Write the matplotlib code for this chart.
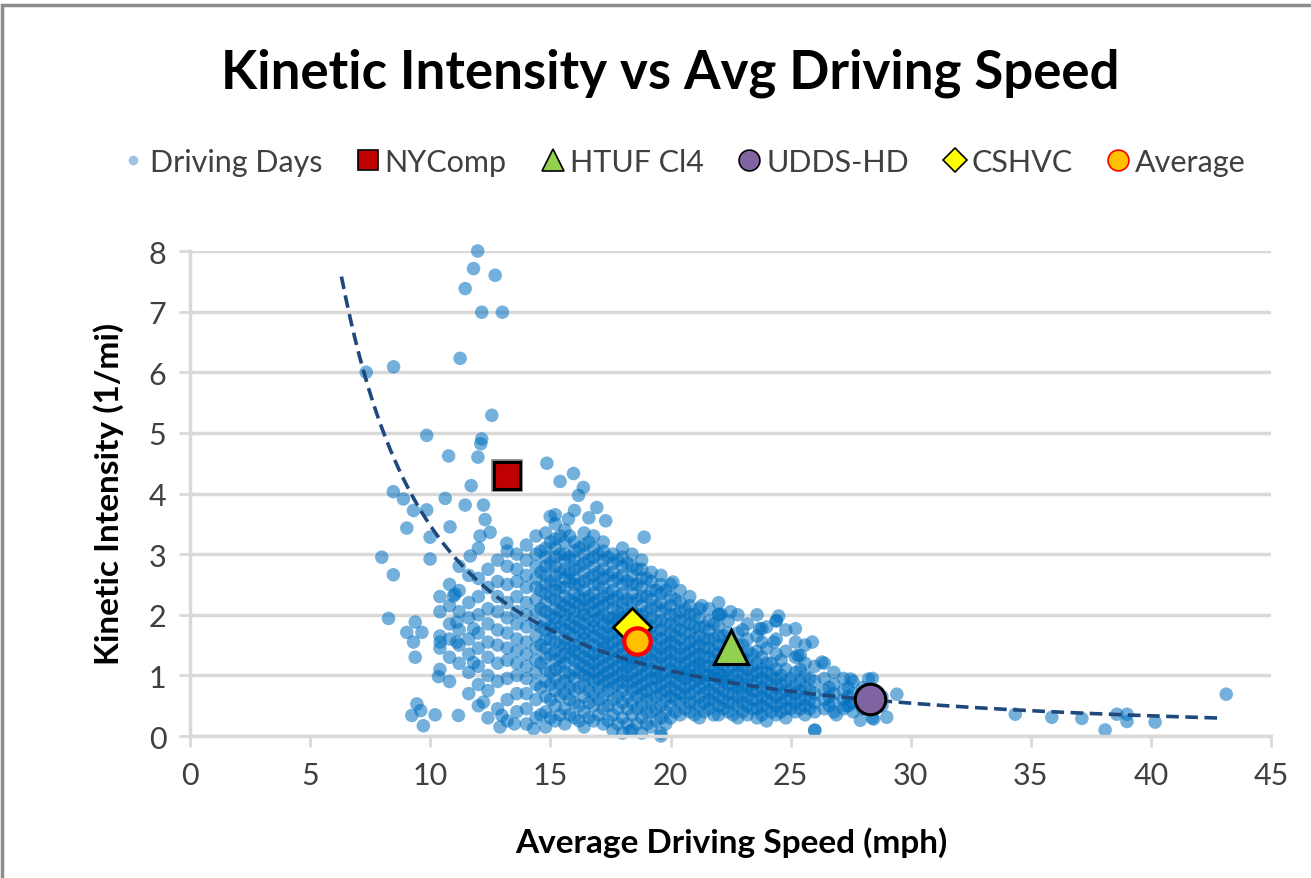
import numpy as np
import matplotlib.pyplot as plt
import matplotlib.patheffects as pe
from matplotlib.lines import Line2D
from matplotlib.patches import Rectangle

plt.rcParams['font.family'] = ['Lato', 'DejaVu Sans']

# sparse driving days (outliers)
sparse_speed = [11.97, 11.8, 12.7, 11.45, 12.14, 13.0, 11.24, 8.47, 7.33, 12.56,
                9.85, 12.14, 12.1, 10.76, 11.98, 14.85, 15.96, 15.4, 16.37, 11.7,
                8.46, 8.88, 10.62, 16.17, 11.45, 12.21, 9.85, 9.3, 16.93, 12.28,
                9.02, 10.82, 15.75, 14.99, 9.99, 12.07, 12.49, 13.18, 7.98, 9.99,
                11.66, 8.46, 11.03, 8.26, 9.37, 9.02, 9.65, 9.3, 9.37, 10.34,
                11.8, 9.44, 9.23, 9.71, 11.17, 12.21, 12.98, 10.41, 11.1, 10.96,
                11.1, 11.8, 15.2, 16.0, 16.6, 17.3, 18.9, 20.1, 21.3, 22.1,
                22.5, 24.5, 23.7, 22.0, 24.4, 25.2, 23.8, 25.9, 24.3, 25.4,
                26.3, 28.4, 29.0, 27.9, 26.0, 43.13, 34.35, 35.87, 37.12, 38.09,
                39.0, 38.58, 39.0, 40.17, 29.42, 28.45, 28.24, 25.3, 27.5, 19.6,
                18.3, 14.3, 13.5, 12.9, 10.2, 9.6, 26.9, 27.3]
sparse_ki = [8.0, 7.71, 7.6, 7.38, 6.99, 6.99, 6.23, 6.09, 6.0, 5.29,
             4.96, 4.9, 4.82, 4.62, 4.6, 4.5, 4.33, 4.2, 4.1, 4.13,
             4.03, 3.91, 3.92, 3.97, 3.81, 3.81, 3.73, 3.72, 3.77, 3.57,
             3.43, 3.45, 3.58, 3.62, 3.28, 3.3, 3.36, 3.18, 2.95, 2.92,
             2.97, 2.66, 2.34, 1.94, 1.88, 1.71, 1.71, 1.55, 1.30, 0.98,
             1.21, 0.53, 0.34, 0.17, 0.34, 0.56, 0.34, 1.55, 1.55, 2.31,
             1.88, 1.77, 3.65, 3.72, 3.6, 3.55, 3.28, 2.54, 2.15, 2.01,
             2.05, 1.98, 1.77, 2.01, 1.9, 1.77, 1.77, 1.55, 1.55, 1.33,
             1.22, 0.69, 0.31, 0.26, 0.09, 0.69, 0.36, 0.31, 0.29, 0.10,
             0.24, 0.36, 0.36, 0.23, 0.69, 0.28, 0.94, 1.33, 0.94, 0.05,
             0.08, 0.12, 0.2, 0.15, 0.35, 0.42, 0.35, 0.5]

# dense cloud of driving days, by speed column (mph) -> kinetic intensity values
core_days = {
    10.4: [1.1, 1.45, 1.65, 2.05, 2.3],
    10.8: [0.9, 1.3, 1.6, 1.85, 2.15, 2.5],
    11.2: [1.2, 1.5, 1.75, 2.05, 2.4, 2.8],
    11.6: [0.7, 1.05, 1.35, 1.6, 1.95, 2.2, 2.65],
    12.0: [0.5, 0.85, 1.15, 1.45, 1.7, 2.0, 2.3, 2.6, 3.1],
    12.4: [0.3, 0.75, 1.0, 1.3, 1.55, 1.85, 2.1, 2.45, 2.75],
    12.8: [0.45, 0.9, 1.2, 1.5, 1.75, 2.05, 2.3, 2.55, 2.9],
    13.2: [0.25, 0.6, 0.95, 1.25, 1.45, 1.7, 1.95, 2.2, 2.5, 2.8, 3.05],
    13.6: [0.4, 0.7, 1.0, 1.2, 1.4, 1.6, 1.85, 2.05, 2.3, 2.55, 2.75, 3.0],
    14.0: [0.2, 0.45, 0.7, 0.95, 1.15, 1.35, 1.55, 1.8, 2.0, 2.2, 2.45, 2.65, 2.9, 3.15],
    14.4: [0.3, 0.6, 0.85, 1.05, 1.25, 1.45, 1.65, 1.85, 2.05, 2.25, 2.45, 2.6, 2.8, 3.0, 3.3],
    14.8: [0.15, 0.4, 0.65, 0.9, 1.1, 1.3, 1.45, 1.6, 1.75, 1.9, 2.05, 2.2, 2.35, 2.5, 2.65,
           2.8, 2.95, 3.1, 3.35],
    15.2: [0.25, 0.5, 0.75, 0.95, 1.1, 1.25, 1.4, 1.55, 1.7, 1.85, 1.95, 2.1, 2.25, 2.4, 2.5,
           2.65, 2.8, 2.95, 3.1, 3.25, 3.5],
    15.6: [0.2, 0.45, 0.7, 0.9, 1.05, 1.2, 1.35, 1.5, 1.6, 1.75, 1.9, 2.0, 2.15, 2.3, 2.45,
           2.6, 2.75, 2.9, 3.0, 3.2, 3.4],
    16.0: [0.3, 0.55, 0.75, 0.95, 1.1, 1.25, 1.4, 1.5, 1.65, 1.8, 1.95, 2.05, 2.2, 2.35, 2.5,
           2.6, 2.75, 2.9, 3.05, 3.2],
    16.4: [0.15, 0.4, 0.65, 0.85, 1.0, 1.15, 1.3, 1.45, 1.6, 1.7, 1.85, 2.0, 2.1, 2.25, 2.4,
           2.55, 2.7, 2.85, 3.0, 3.15, 3.35],
    16.8: [0.25, 0.5, 0.7, 0.9, 1.05, 1.2, 1.35, 1.5, 1.65, 1.8, 1.9, 2.05, 2.2, 2.35, 2.5,
           2.65, 2.8, 2.95, 3.1, 3.3],
    17.2: [0.2, 0.45, 0.65, 0.85, 1.0, 1.15, 1.3, 1.45, 1.55, 1.7, 1.85, 2.0, 2.15, 2.3, 2.45,
           2.6, 2.75, 2.9, 3.05, 3.2],
    17.6: [0.1, 0.35, 0.6, 0.8, 0.95, 1.1, 1.25, 1.4, 1.55, 1.7, 1.85, 1.95, 2.1, 2.25, 2.4,
           2.55, 2.7, 2.85, 3.0],
    18.0: [0.05, 0.3, 0.55, 0.75, 0.9, 1.05, 1.2, 1.35, 1.5, 1.65, 1.8, 1.95, 2.1, 2.2, 2.35,
           2.5, 2.65, 2.8, 2.95, 3.1],
    18.4: [0.1, 0.35, 0.55, 0.75, 0.9, 1.05, 1.2, 1.3, 1.45, 1.6, 1.75, 1.9, 2.05, 2.2, 2.35,
           2.5, 2.65, 2.8, 3.0],
    18.8: [0.05, 0.3, 0.5, 0.7, 0.85, 1.0, 1.15, 1.3, 1.45, 1.6, 1.75, 1.9, 2.0, 2.15, 2.3,
           2.45, 2.6, 2.75, 2.9],
    19.2: [0.15, 0.4, 0.6, 0.8, 0.95, 1.1, 1.25, 1.4, 1.55, 1.65, 1.8, 1.95, 2.1, 2.25, 2.4,
           2.55, 2.7],
    19.6: [0.0, 0.3, 0.5, 0.7, 0.85, 1.0, 1.15, 1.3, 1.45, 1.6, 1.75, 1.9, 2.05, 2.2, 2.35,
           2.5, 2.65],
    20.0: [0.3, 0.5, 0.65, 0.8, 0.95, 1.1, 1.25, 1.4, 1.55, 1.7, 1.85, 2.0, 2.15, 2.3, 2.5],
    20.4: [0.35, 0.55, 0.7, 0.85, 1.0, 1.15, 1.3, 1.45, 1.6, 1.75, 1.9, 2.05, 2.2, 2.4],
    20.8: [0.4, 0.55, 0.7, 0.85, 1.0, 1.1, 1.25, 1.4, 1.55, 1.7, 1.85, 2.0, 2.15, 2.3],
    21.2: [0.3, 0.5, 0.65, 0.8, 0.95, 1.1, 1.2, 1.35, 1.5, 1.65, 1.8, 1.95, 2.1],
    21.6: [0.45, 0.6, 0.75, 0.9, 1.0, 1.15, 1.3, 1.45, 1.6, 1.75, 1.9, 2.1],
    22.0: [0.35, 0.5, 0.65, 0.8, 0.95, 1.05, 1.2, 1.35, 1.5, 1.65, 1.8, 2.0, 2.2],
    22.4: [0.4, 0.55, 0.7, 0.85, 0.95, 1.1, 1.25, 1.4, 1.55, 1.7, 1.9],
    22.8: [0.3, 0.5, 0.65, 0.8, 0.9, 1.05, 1.2, 1.35, 1.5, 1.7, 2.0],
    23.2: [0.35, 0.5, 0.65, 0.8, 0.95, 1.1, 1.25, 1.4, 1.6, 1.85],
    23.6: [0.3, 0.45, 0.6, 0.75, 0.9, 1.05, 1.2, 1.4, 1.65, 2.0],
    24.0: [0.25, 0.45, 0.6, 0.75, 0.9, 1.05, 1.2, 1.45, 1.8],
    24.4: [0.35, 0.5, 0.65, 0.8, 0.95, 1.1, 1.35, 1.6, 1.9],
    24.8: [0.3, 0.45, 0.6, 0.75, 0.9, 1.1, 1.4, 1.75],
    25.2: [0.4, 0.55, 0.7, 0.85, 1.05, 1.3, 1.55],
    25.6: [0.35, 0.5, 0.65, 0.8, 1.0, 1.2, 1.5],
    26.0: [0.1, 0.4, 0.55, 0.7, 0.9, 1.15],
    26.4: [0.45, 0.6, 0.75, 0.95, 1.2],
    26.8: [0.4, 0.55, 0.7, 0.85, 1.05],
    27.2: [0.45, 0.6, 0.75, 0.95],
    27.6: [0.4, 0.55, 0.7, 0.9],
    28.0: [0.45, 0.6, 0.8],
    28.4: [0.3, 0.5, 0.7, 0.95],
    28.8: [0.5, 0.65],
}

# second, staggered pass through the densest part of the cloud
core_days_mid = {
    14.6: [0.35, 0.8, 1.2, 1.5, 1.8, 2.1, 2.4, 2.7, 3.05],
    15.0: [0.3, 0.6, 0.85, 1.05, 1.35, 1.6, 1.8, 2.0, 2.3, 2.55, 2.85, 3.2],
    15.4: [0.35, 0.65, 0.85, 1.15, 1.3, 1.5, 1.8, 2.05, 2.2, 2.45, 2.7, 3.0, 3.3],
    15.8: [0.35, 0.6, 0.8, 1.0, 1.3, 1.45, 1.7, 1.85, 2.1, 2.25, 2.55, 2.7, 2.95, 3.3],
    16.2: [0.25, 0.5, 0.8, 1.05, 1.2, 1.35, 1.55, 1.75, 1.9, 2.15, 2.3, 2.5, 2.8, 3.1],
    16.6: [0.3, 0.55, 0.75, 0.95, 1.1, 1.25, 1.4, 1.55, 1.75, 1.95, 2.15, 2.3, 2.6, 2.9, 3.2],
    17.0: [0.35, 0.6, 0.8, 0.95, 1.1, 1.25, 1.4, 1.6, 1.75, 1.95, 2.1, 2.25, 2.5, 2.7, 3.0],
    17.4: [0.25, 0.5, 0.75, 0.9, 1.05, 1.2, 1.35, 1.5, 1.65, 1.8, 1.95, 2.2, 2.35, 2.65, 2.95],
    17.8: [0.2, 0.45, 0.65, 0.85, 1.0, 1.15, 1.3, 1.45, 1.6, 1.75, 1.9, 2.05, 2.3, 2.6, 2.9],
    18.2: [0.2, 0.45, 0.65, 0.85, 1.0, 1.15, 1.25, 1.4, 1.55, 1.7, 1.85, 2.0, 2.25, 2.55, 2.85],
    18.6: [0.2, 0.45, 0.65, 0.8, 0.95, 1.1, 1.25, 1.35, 1.55, 1.7, 1.85, 2.0, 2.25, 2.5, 2.75],
    19.0: [0.2, 0.4, 0.6, 0.75, 0.9, 1.05, 1.2, 1.35, 1.5, 1.7, 1.85, 2.05, 2.3, 2.6],
    19.4: [0.25, 0.45, 0.65, 0.8, 0.95, 1.05, 1.2, 1.35, 1.5, 1.7, 1.9, 2.15, 2.4],
    19.8: [0.2, 0.4, 0.6, 0.75, 0.9, 1.05, 1.2, 1.35, 1.5, 1.65, 1.85, 2.1, 2.4],
    20.2: [0.4, 0.6, 0.75, 0.9, 1.05, 1.2, 1.35, 1.5, 1.65, 1.8, 2.0, 2.25],
    20.6: [0.45, 0.65, 0.8, 0.95, 1.05, 1.2, 1.35, 1.5, 1.7, 1.9, 2.1],
    21.0: [0.35, 0.55, 0.75, 0.9, 1.0, 1.15, 1.3, 1.45, 1.6, 1.8, 2.0],
    21.4: [0.4, 0.55, 0.7, 0.85, 1.0, 1.15, 1.3, 1.45, 1.6, 1.8],
    21.8: [0.35, 0.55, 0.7, 0.85, 1.0, 1.1, 1.25, 1.4, 1.6, 1.85],
    22.2: [0.45, 0.6, 0.75, 0.9, 1.0, 1.15, 1.3, 1.45, 1.65],
    22.6: [0.35, 0.55, 0.7, 0.85, 1.0, 1.15, 1.3, 1.5],
    23.0: [0.4, 0.55, 0.7, 0.85, 1.0, 1.15, 1.3, 1.5, 1.75],
    23.4: [0.45, 0.6, 0.75, 0.85, 1.0, 1.15, 1.35],
    23.8: [0.35, 0.5, 0.65, 0.8, 0.95, 1.1, 1.3, 1.55],
    24.2: [0.4, 0.55, 0.7, 0.85, 1.0, 1.2],
    24.6: [0.4, 0.55, 0.7, 0.85, 1.0, 1.25],
    25.0: [0.45, 0.6, 0.75, 0.95],
    25.4: [0.45, 0.6, 0.75, 0.9, 1.1],
    25.8: [0.45, 0.6, 0.75, 0.95],
    26.6: [0.5, 0.65, 0.8],
    27.4: [0.5, 0.65, 0.8],
}

# drive cycles
cycle_names = ['NYComp', 'HTUF Cl4', 'UDDS-HD', 'CSHVC', 'Average']
cycle_speed = [13.2, 22.5, 28.3, 18.4, 18.6]
cycle_ki = [4.3, 1.47, 0.61, 1.8, 1.57]

# power trend line  ki = a * speed^b
trend_a = 170.0
trend_b = -1.69
trend_range = (6.3, 43.0)

speed = list(sparse_speed)
ki = list(sparse_ki)
for cols in (core_days, core_days_mid):
    for s, vals in cols.items():
        speed += [s] * len(vals)
        ki += vals

fig = plt.figure(figsize=(13.11, 8.79), dpi=100)
ax = fig.add_axes([0.145, 0.1615, 0.8246, 0.5518])

grid_c = '#D9D9D9'
ax.set_xlim(0, 45)
ax.set_ylim(0, 8)
ax.set_xticks(range(0, 46, 5))
ax.set_yticks(range(0, 9))
ax.yaxis.grid(True, color=grid_c, lw=2.5)
ax.set_axisbelow(True)
for side in ['top', 'right']:
    ax.spines[side].set_visible(False)
for side in ['left', 'bottom']:
    ax.spines[side].set_color(grid_c)
    ax.spines[side].set_linewidth(2.5)
ax.tick_params(axis='both', length=8, width=2, color=grid_c, labelsize=22,
               labelcolor='#404040')
ax.tick_params(axis='x', pad=10)
ax.tick_params(axis='y', pad=9)

ax.scatter(speed, ki, s=95, color='#0070C0', alpha=0.55, edgecolors='none',
           clip_on=False, zorder=2)

tx = np.linspace(trend_range[0], trend_range[1], 200)
ax.plot(tx, trend_a * tx ** trend_b, color='#1F497D', lw=2.6, ls=(0, (3.5, 1.8)),
        zorder=3)

styles = [
    dict(marker='s', ms=19, mfc='#C00000', mec='black', mew=2.2),
    dict(marker='^', ms=25, mfc='#92D050', mec='black', mew=2.2),
    dict(marker='o', ms=22, mfc='#8064A2', mec='black', mew=2.2),
    dict(marker='D', ms=19, mfc='#FFFF00', mec='black', mew=2.0),
    dict(marker='o', ms=19, mfc='#FFC000', mec='#FF0000', mew=3.0),
]
for name, x, y, st in zip(cycle_names, cycle_speed, cycle_ki, styles):
    ln, = ax.plot([x], [y], ls='none', zorder=4, clip_on=False, **st)
    if name == 'NYComp':
        ln.set_path_effects([pe.Stroke(linewidth=4, foreground='#7F7F7F'), pe.Normal()])

# legend
handles = [Line2D([], [], ls='none', marker='o', ms=7, mfc='#9DC3E6', mec='none')]
leg_sizes = [15, 16, 15, 12, 15]
for st, ms in zip(styles, leg_sizes):
    h = dict(st)
    h['ms'] = ms
    h['mew'] = 1.2
    handles.append(Line2D([], [], ls='none', **h))
fig.legend(handles, ['Driving Days'] + cycle_names, loc='center',
           bbox_to_anchor=(0.52, 0.8146), ncol=6, frameon=False, fontsize=22,
           handletextpad=0.05, columnspacing=1.0, handlelength=1.0,
           labelcolor='#404040')

fig.text(0.511, 0.917, 'Kinetic Intensity vs Avg Driving Speed', ha='center',
         va='center', fontsize=38, weight='bold')
fig.text(0.5576, 0.041, 'Average Driving Speed (mph)', ha='center', va='center',
         fontsize=24, weight='bold')
fig.text(0.0825, 0.438, 'Kinetic Intensity (1/mi)', ha='center', va='center',
         fontsize=24, weight='bold', rotation=90)

# chart border
fig.add_artist(Rectangle((0.0015, -0.05), 1.1, 1.0432, transform=fig.transFigure,
                         fill=False, ec='#8C8C8C', lw=2.5))

fig.savefig('out.png', dpi=100)
